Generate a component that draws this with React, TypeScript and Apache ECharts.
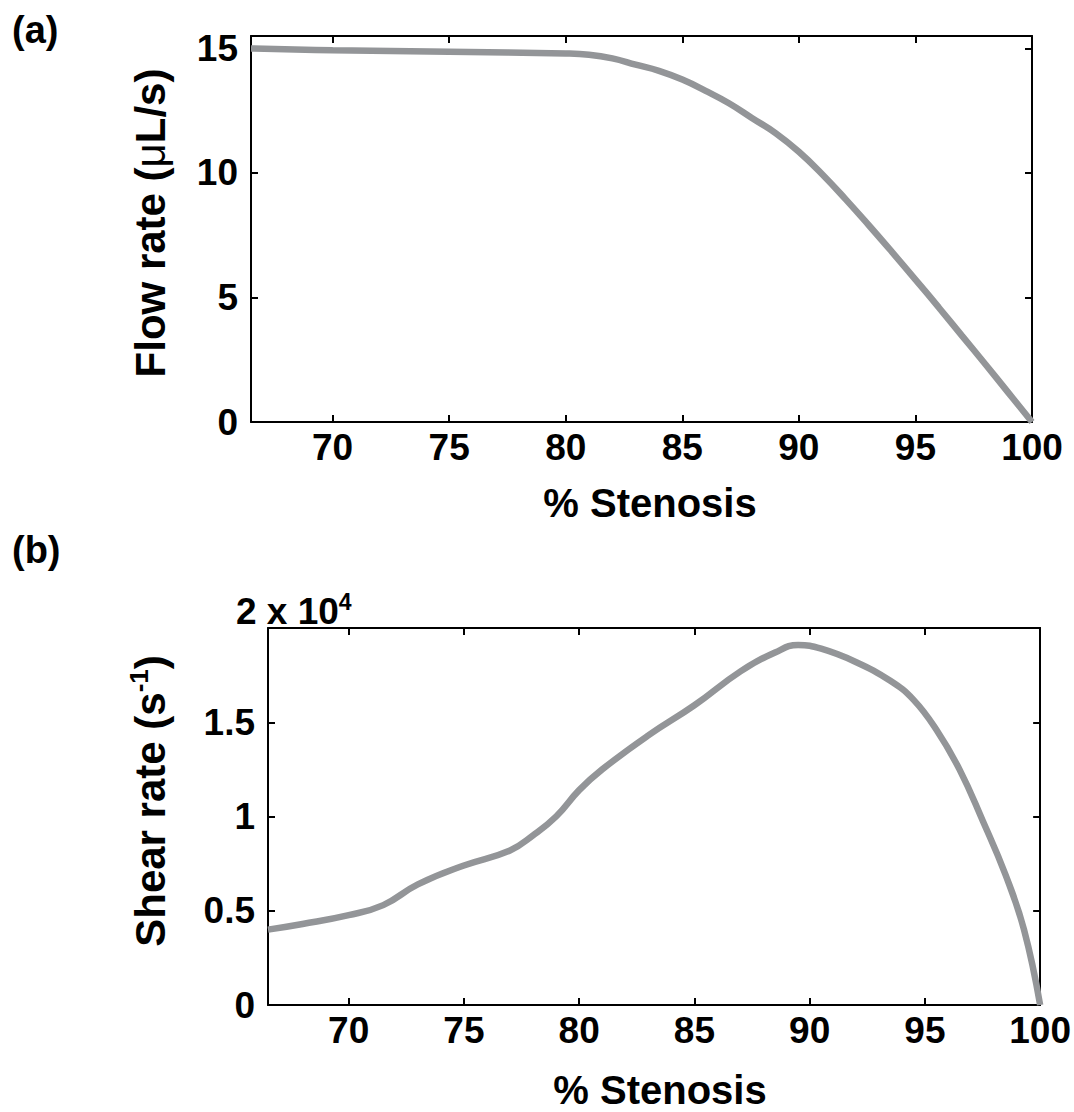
import React, { useEffect, useRef } from "react";
import * as echarts from "echarts";

// ---- data ----
const stenosisA = [66.5, 70, 75, 80, 81, 82, 83, 84, 85, 86, 87, 88, 89, 90, 91, 92, 93, 94, 95, 96, 97, 98, 99, 100];
const flowRate = [15.0, 14.93, 14.87, 14.8, 14.75, 14.6, 14.35, 14.1, 13.75, 13.3, 12.8, 12.2, 11.6, 10.85, 9.95, 8.95, 7.9, 6.82, 5.72, 4.6, 3.46, 2.32, 1.16, 0];

const stenosisB = [66.5, 68, 70, 71.5, 73, 75, 77, 78, 79, 80, 81, 83, 85, 87, 88.5, 89.5, 90.5, 92, 93.5, 94.5, 95.5, 96.5, 97.5, 98.5, 99.3, 100];
const shearRate = [4000, 4300, 4770, 5300, 6400, 7400, 8200, 9000, 10000, 11400, 12500, 14300, 15900, 17700, 18700, 19100, 18900, 18200, 17200, 16200, 14600, 12500, 9800, 6900, 4000, 0];

const xTicks = [70, 75, 80, 85, 90, 95, 100];
const flowTicks = [0, 5, 10, 15];
const shearTicks = [0, 5000, 10000, 15000, 20000];
const shearLabelTicks = [0, 5000, 10000, 15000];

const FONT = '"Liberation Sans", Arial, sans-serif';
const LINE_COLOR = "#939598";

function axisCommon(extra: any) {
  return {
    type: "value",
    axisLine: { show: true, onZero: false, lineStyle: { color: "#000", width: 2 } },
    splitLine: { show: false },
    ...extra,
  };
}

export default function App() {
  const ref = useRef<HTMLDivElement>(null);
  useEffect(() => {
    if (!ref.current) return;
    const chart = echarts.init(ref.current, undefined, { renderer: "svg" });
    const tickStyle = { inside: true, length: 7, lineStyle: { color: "#000", width: 2 } };
    const labelStyle = { color: "#000", fontFamily: FONT, fontWeight: "bold", fontSize: 37 };
    const titleStyle = { fill: "#000", fontFamily: FONT, fontWeight: "bold", fontSize: 40 };
    const yTitleStyle = { fill: "#000", fontFamily: FONT, fontWeight: "bold", fontSize: 42 };

    const lineSeries = (xi: number, yi: number, xs: number[], ys: number[]) => ({
      type: "line", xAxisIndex: xi, yAxisIndex: yi,
      data: xs.map((x, i) => [x, ys[i]]),
      smooth: 0.45, showSymbol: false, symbol: "none",
      lineStyle: { color: LINE_COLOR, width: 6.5 },
    });

    chart.setOption({
      animation: false,
      backgroundColor: "#fff",
      grid: [
        { left: 251, top: 36, width: 781, height: 386 },
        { left: 268, top: 628, width: 780, height: 377 },
      ],
      xAxis: [
        axisCommon({
          gridIndex: 0, position: "bottom", min: 66.5, max: 100,
          axisTick: { ...tickStyle, customValues: xTicks },
          axisLabel: { ...labelStyle, margin: 7, customValues: xTicks },
        }),
        axisCommon({
          gridIndex: 0, position: "top", min: 66.5, max: 100,
          axisTick: { ...tickStyle, customValues: xTicks },
          axisLabel: { show: false },
        }),
        axisCommon({
          gridIndex: 1, position: "bottom", min: 66.5, max: 100,
          axisTick: { ...tickStyle, customValues: xTicks },
          axisLabel: { ...labelStyle, margin: 7, customValues: xTicks },
        }),
        axisCommon({
          gridIndex: 1, position: "top", min: 66.5, max: 100,
          axisTick: { ...tickStyle, customValues: xTicks },
          axisLabel: { show: false },
        }),
      ],
      yAxis: [
        axisCommon({
          gridIndex: 0, position: "left", min: 0, max: 15.5,
          axisTick: { ...tickStyle, customValues: flowTicks },
          axisLabel: { ...labelStyle, margin: 13, customValues: flowTicks },
        }),
        axisCommon({
          gridIndex: 0, position: "right", min: 0, max: 15.5,
          axisTick: { ...tickStyle, customValues: flowTicks },
          axisLabel: { show: false },
        }),
        axisCommon({
          gridIndex: 1, position: "left", min: 0, max: 20000,
          axisTick: { ...tickStyle, customValues: shearTicks },
          axisLabel: {
            ...labelStyle, margin: 13, customValues: shearLabelTicks,
            formatter: (v: number) => String(v / 10000),
          },
        }),
        axisCommon({
          gridIndex: 1, position: "right", min: 0, max: 20000,
          axisTick: { ...tickStyle, customValues: shearTicks },
          axisLabel: { show: false },
        }),
      ],
      series: [
        lineSeries(0, 0, stenosisA, flowRate),
        lineSeries(2, 2, stenosisB, shearRate),
      ],
      graphic: [
        { type: "text", x: 12, y: 30, style: { ...titleStyle, fontSize: 38, text: "(a)", align: "left", verticalAlign: "middle" } },
        { type: "text", x: 12, y: 550, style: { ...titleStyle, fontSize: 38, text: "(b)", align: "left", verticalAlign: "middle" } },
        { type: "text", x: 650, y: 503, style: { ...titleStyle, text: "% Stenosis", align: "center", verticalAlign: "middle" } },
        { type: "text", x: 660, y: 1090, style: { ...titleStyle, text: "% Stenosis", align: "center", verticalAlign: "middle" } },
        {
          type: "text", x: 150, y: 223, rotation: Math.PI / 2,
          style: {
            ...yTitleStyle, text: "Flow rate ({mu|μ}L/s)", align: "center", verticalAlign: "middle",
            rich: { mu: { fontFamily: FONT, fontWeight: "normal", fontSize: 42, fill: "#000" } },
          },
        },
        {
          type: "text", x: 150, y: 801, rotation: Math.PI / 2,
          style: {
            ...yTitleStyle, text: "Shear rate (s{sup|-1})", align: "center", verticalAlign: "middle", lineHeight: 48,
            rich: { sup: { fontFamily: FONT, fontWeight: "bold", fontSize: 26, fill: "#000", verticalAlign: "top", lineHeight: 28 } },
          },
        },
        {
          type: "text", x: 236, y: 611,
          style: {
            fill: "#000", fontFamily: FONT, fontWeight: "bold", fontSize: 37, lineHeight: 42,
            text: "2 x 10{sup|4}", align: "left", verticalAlign: "middle",
            rich: { sup: { fontFamily: FONT, fontWeight: "bold", fontSize: 23, fill: "#000", verticalAlign: "top", lineHeight: 25 } },
          },
        },
      ],
    });
    return () => chart.dispose();
  }, []);
  return <div ref={ref} style={{ position: "absolute", left: 0, top: 0, width: 1074, height: 1112 }} />;
}
